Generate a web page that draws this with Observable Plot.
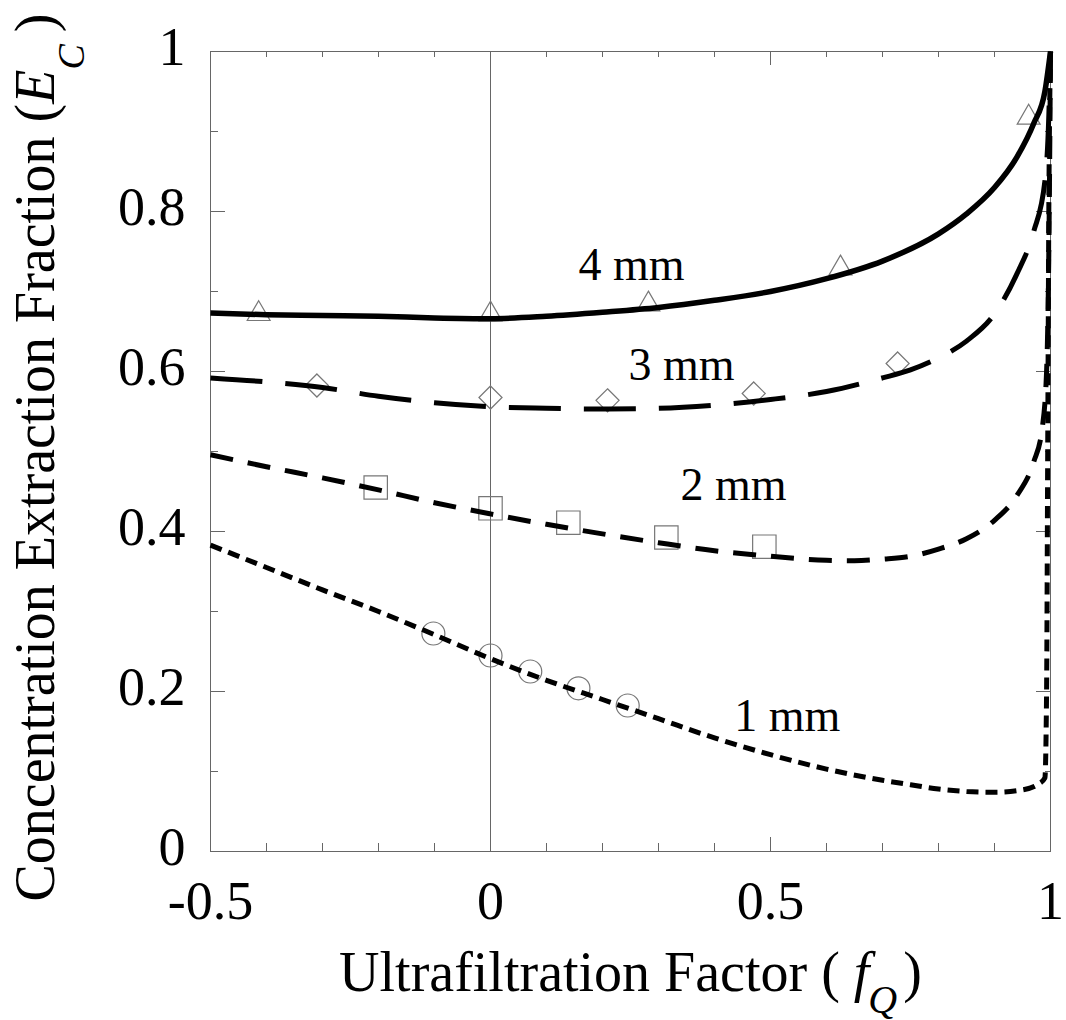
<!DOCTYPE html>
<html>
<head>
<meta charset="utf-8">
<script src="https://cdn.jsdelivr.net/npm/d3@7"></script>
<script src="https://cdn.jsdelivr.net/npm/@observablehq/plot@0.6"></script>
<style>
  html, body { margin: 0; padding: 0; background: #fff; }
  #chart { width: 1066px; height: 1020px; }
</style>
</head>
<body>
<div id="chart"></div>
<script>
// ---- tick values ----
const xTicksMajor = [-0.5, 0, 0.5, 1];
const xTicksMinor = [-0.4, -0.3, -0.2, -0.1, 0.1, 0.2, 0.3, 0.4, 0.6, 0.7, 0.8, 0.9];
const xTicksInner = [0.5];
const yTicksMajor = [0, 0.2, 0.4, 0.6, 0.8, 1];
const yTicksInner = [0.2, 0.4, 0.6, 0.8];
const yTicksMinor = [0.1, 0.3, 0.5, 0.7, 0.9];

// ---- model curves ----
const fq4 = [-0.5, -0.4, -0.3, -0.2, -0.1, 0, 0.1, 0.2, 0.3, 0.4, 0.5, 0.6, 0.7, 0.8, 0.85, 0.9, 0.94, 0.97, 0.99, 1.0];
const ec4 = [0.673, 0.671, 0.670, 0.669, 0.667, 0.666, 0.669, 0.674, 0.680, 0.689, 0.700, 0.716, 0.738, 0.772, 0.797, 0.830, 0.868, 0.910, 0.950, 1.0];

const fq3 = [-0.5, -0.4, -0.3, -0.2, -0.1, 0, 0.1, 0.2, 0.3, 0.4, 0.5, 0.6, 0.7, 0.75, 0.8, 0.85, 0.9, 0.94, 0.97, 0.99, 0.997, 1.0];
const ec3 = [0.592, 0.587, 0.580, 0.569, 0.561, 0.556, 0.554, 0.553, 0.554, 0.558, 0.565, 0.575, 0.592, 0.602, 0.617, 0.638, 0.672, 0.722, 0.775, 0.838, 0.920, 1.0];

const fq2 = [-0.5, -0.4, -0.3, -0.2, -0.1, 0, 0.1, 0.2, 0.3, 0.4, 0.5, 0.6, 0.65, 0.7, 0.75, 0.8, 0.85, 0.9, 0.94, 0.97, 0.985, 0.993, 0.997, 1.0];
const ec2 = [0.496, 0.481, 0.467, 0.452, 0.436, 0.422, 0.409, 0.397, 0.386, 0.376, 0.369, 0.364, 0.3635, 0.3655, 0.369, 0.378, 0.391, 0.414, 0.445, 0.487, 0.528, 0.600, 0.750, 1.0];

const fq1 = [-0.5, -0.4, -0.3, -0.2, -0.1, 0, 0.1, 0.2, 0.3, 0.4, 0.5, 0.6, 0.7, 0.75, 0.8, 0.85, 0.9, 0.95, 0.98, 0.99, 0.993, 0.995, 0.997, 1.0];
const ec1 = [0.383, 0.355, 0.327, 0.300, 0.271, 0.241, 0.214, 0.190, 0.166, 0.142, 0.121, 0.103, 0.089, 0.0835, 0.078, 0.075, 0.074, 0.077, 0.085, 0.092, 0.200, 0.500, 0.800, 1.0];

// ---- experimental points ----
const triX = [-0.414, 0, 0.282, 0.625, 0.961];
const triY = [0.672, 0.6715, 0.684, 0.729, 0.9175];
const diaX = [-0.31, 0, 0.209, 0.47, 0.727];
const diaY = [0.5825, 0.5675, 0.564, 0.5725, 0.61];
const sqX = [-0.205, 0, 0.139, 0.314, 0.489];
const sqY = [0.455, 0.429, 0.411, 0.3925, 0.381];
const cirX = [-0.102, 0, 0.071, 0.157, 0.245];
const cirY = [0.2725, 0.245, 0.225, 0.204, 0.1825];

// ---- curve labels ----
const labelText = ["4 mm", "3 mm", "2 mm", "1 mm"];
const labelX = [0.252, 0.341, 0.434, 0.530];
const labelY = [0.715, 0.589, 0.440, 0.151];

const xTitle = "Ultrafiltration Factor (";
const yTitle = "Concentration Extraction Fraction (";

const zip = (xs, ys) => xs.map((x, i) => ({x, y: ys[i]}));
const line4 = zip(fq4, ec4), line3 = zip(fq3, ec3), line2 = zip(fq2, ec2), line1 = zip(fq1, ec1);
const labels = labelText.map((t, i) => ({t, x: labelX[i], y: labelY[i]}));

const W = 1066, H = 1020, mL = 210, mR = 16, mT = 51, mB = 169;
const pw = W - mL - mR, ph = H - mT - mB;
const gray = "#666";

const lineOpts = {x: "x", y: "y", stroke: "black", strokeWidth: 5, curve: "monotone-x", strokeLinecap: "butt"};
const dotOpts = {x: "x", y: "y", fill: "none", stroke: "#777", strokeWidth: 1.2};

const chart = Plot.plot({
  width: W, height: H,
  marginLeft: mL, marginRight: mR, marginTop: mT, marginBottom: mB,
  style: {fontFamily: "'Liberation Serif', 'Times New Roman', serif", fontSize: "54px", background: "white", color: "black"},
  x: {domain: [-0.5, 1]},
  y: {domain: [0, 1]},
  marks: [
    Plot.ruleX([0], {stroke: gray, strokeWidth: 1}),
    // inward ticks: bottom/top
    Plot.tickX(xTicksMinor, {x: d => d, insetTop: ph - 8, stroke: gray}),
    Plot.tickX(xTicksMinor, {x: d => d, insetBottom: ph - 6, stroke: gray}),
    Plot.tickX(xTicksInner, {x: d => d, insetTop: ph - 14, stroke: gray}),
    Plot.tickX(xTicksInner, {x: d => d, insetBottom: ph - 14, stroke: gray}),
    // inward ticks: left/right
    Plot.tickY(yTicksMinor, {y: d => d, insetRight: pw - 8, stroke: gray}),
    Plot.tickY(yTicksMinor, {y: d => d, insetLeft: pw - 5, stroke: gray}),
    Plot.tickY(yTicksInner, {y: d => d, insetRight: pw - 15, stroke: gray}),
    Plot.tickY(yTicksInner, {y: d => d, insetLeft: pw - 14, stroke: gray}),
    Plot.frame({stroke: gray, strokeWidth: 1}),
    Plot.axisX({ticks: xTicksMajor, tickSize: 0, tickPadding: 29, tickFormat: d => String(d), fontSize: 54, label: null}),
    Plot.axisY({ticks: yTicksMajor, tickSize: 0, tickPadding: 25, tickFormat: d => String(d), fontSize: 54, dy: -4, label: null}),
    // markers
    Plot.dot(zip(triX, triY), {...dotOpts, symbol: "triangle", r: 8.5}),
    Plot.dot(zip(diaX, diaY), {...dotOpts, symbol: "diamond2", r: 10.4}),
    Plot.dot(zip(sqX, sqY), {...dotOpts, symbol: "square", r: 13.2}),
    Plot.dot(zip(cirX, cirY), {...dotOpts, symbol: "circle", r: 11.5}),
    // model lines
    Plot.line(line4, {...lineOpts, strokeWidth: 5.5}),
    Plot.line(line3, {...lineOpts, strokeDasharray: "52,23"}),
    Plot.line(line2, {...lineOpts, strokeDasharray: "23,15"}),
    Plot.line(line1, {...lineOpts, strokeDasharray: "12,7"}),
    // labels
    Plot.text(labels, {x: "x", y: "y", text: "t", lineAnchor: "bottom", fontSize: 46, fill: "black"}),
    // axis titles
    Plot.text([xTitle], {text: d => d, frameAnchor: "bottom", textAnchor: "middle", dy: 139, lineAnchor: "bottom", fontSize: 56, fill: "black"}),
    Plot.text([yTitle], {text: d => d, frameAnchor: "left", textAnchor: "middle", rotate: -90, dx: -157, dy: 6, lineAnchor: "bottom", fontSize: 56, fill: "black"})
  ]
});

document.getElementById("chart").appendChild(chart);

// rich text (italic symbols with subscripts) for axis titles
const svg = d3.select(chart);
svg.selectAll("text").filter(function() { return this.textContent === xTitle; }).each(function() {
  const t = d3.select(this);
  t.append("tspan").attr("font-style", "italic").text(" f");
  t.append("tspan").attr("font-style", "italic").attr("font-size", 40).attr("dx", -1).attr("dy", 22).text("Q");
  t.append("tspan").attr("dx", 6).attr("dy", -22).text(")");
});
svg.selectAll("text").filter(function() { return this.textContent === yTitle; }).each(function() {
  const t = d3.select(this);
  t.append("tspan").attr("font-style", "italic").text("E");
  t.append("tspan").attr("font-style", "italic").attr("font-size", 38).attr("dy", 30).text("C");
  t.append("tspan").attr("dx", 12).attr("dy", -30).text(")");
});
</script>
</body>
</html>
